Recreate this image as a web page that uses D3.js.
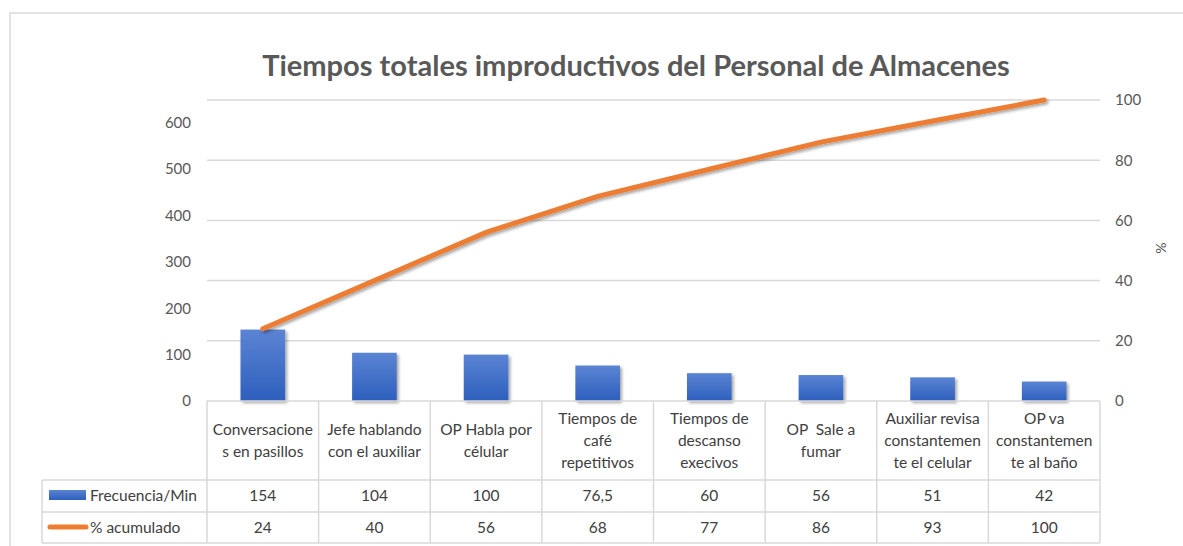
<!DOCTYPE html>
<html>
<head>
<meta charset="utf-8">
<script src="https://cdn.jsdelivr.net/npm/d3@7"></script>
<style>
  body { margin: 0; background: #fff; }
  text { font-family: Lato, "Open Sans", sans-serif; white-space: pre; }
</style>
</head>
<body>
<div id="chart"></div>
<script>
// categories (line breaks as in the table cells)
const categories = [
    "Conversacione\ns en pasillos",
    "Jefe hablando\ncon el auxiliar",
    "OP Habla por\ncélular",
    "Tiempos de\ncafé\nrepetitivos",
    "Tiempos de\ndescanso\nexecivos",
    "OP  Sale a\nfumar",
    "Auxiliar revisa\nconstantemen\nte el celular",
    "OP va\nconstantemen\nte al baño"
];
const frecuencia = [154, 104, 100, 76.5, 60, 56, 51, 42];
const frecuenciaLabels = ["154", "104", "100", "76,5", "60", "56", "51", "42"];
const acumulado = [24, 40, 56, 68, 77, 86, 93, 100];
const leftTicks = [0, 100, 200, 300, 400, 500, 600];
const rightTicks = [0, 20, 40, 60, 80, 100];

const W = 1183, H = 546;
const margin = { top: 100, right: 83, bottom: 145, left: 207 };
const width = W - margin.left - margin.right,
    height = H - margin.top - margin.bottom;

const svg = d3.select("#chart")
    .append("svg")
    .attr("width", W)
    .attr("height", H);

const defs = svg.append("defs");
const grad = defs.append("linearGradient")
    .attr("id", "barGrad")
    .attr("x1", 0).attr("y1", 0).attr("x2", 0).attr("y2", 1);
grad.append("stop").attr("offset", "0%").attr("stop-color", "#5b84d3");
grad.append("stop").attr("offset", "100%").attr("stop-color", "#2d5fbd");

const shadow = defs.append("filter").attr("id", "shadow")
    .attr("x", "-20%").attr("y", "-20%").attr("width", "140%").attr("height", "140%");
shadow.append("feDropShadow")
    .attr("dx", 2).attr("dy", 2).attr("stdDeviation", 1.5)
    .attr("flood-color", "#000").attr("flood-opacity", 0.35);

// chart frame
svg.append("path")
    .attr("d", `M10,${H} L10,13 L${W},13`)
    .attr("fill", "none")
    .attr("stroke", "#d9d9d9")
    .attr("stroke-width", 1.5);

svg.append("text")
    .attr("id", "title")
    .attr("x", 636)
    .attr("y", 76)
    .attr("text-anchor", "middle")
    .style("font-size", "29px")
    .style("font-weight", "bold")
    .attr("fill", "#595959")
    .text("Tiempos totales improductivos del Personal de Almacenes");

// fit title to the reference width
const t = svg.select("#title");
const tw = t.node().getComputedTextLength();
t.style("font-size", (29 * 748 / tw).toFixed(2) + "px");

const g = svg.append("g")
    .attr("transform", `translate(${margin.left},${margin.top})`);

const xc = d3.scaleBand()
    .domain(d3.range(categories.length))
    .range([0, width]);

const y = d3.scaleLinear()
    .domain([0, 649])
    .range([height, 0]);

const y2 = d3.scaleLinear()
    .domain([0, 100])
    .range([height, 0]);

// gridlines (secondary axis)
g.selectAll(".grid")
    .data(rightTicks.slice(1))
    .join("line")
    .attr("x1", 0).attr("x2", width)
    .attr("y1", d => y2(d)).attr("y2", d => y2(d))
    .attr("stroke", "#d9d9d9")
    .attr("stroke-width", 1.5);

// left axis
g.append("g")
    .call(d3.axisLeft(y).tickValues(leftTicks).tickSize(0).tickPadding(16))
    .call(a => a.select(".domain").remove())
    .selectAll("text")
    .style("font-size", "15px")
    .style("font-family", "Lato, sans-serif")
    .attr("fill", "#595959");

// right axis
g.append("g")
    .attr("transform", `translate(${width},0)`)
    .call(d3.axisRight(y2).tickValues(rightTicks).tickSize(0).tickPadding(15))
    .call(a => a.select(".domain").remove())
    .selectAll("text")
    .style("font-size", "15px")
    .style("font-family", "Lato, sans-serif")
    .attr("fill", "#595959");

svg.append("text")
    .attr("transform", `translate(1156,248) rotate(90)`)
    .attr("text-anchor", "middle")
    .style("font-size", "14px")
    .attr("fill", "#595959")
    .text("%");

// bars
g.selectAll(".bar")
    .data(frecuencia)
    .join("rect")
    .attr("class", "bar")
    .attr("x", (d, i) => xc(i) + xc.bandwidth() * 0.3)
    .attr("width", xc.bandwidth() * 0.4)
    .attr("y", d => y(d))
    .attr("height", d => height - y(d))
    .attr("fill", "url(#barGrad)")
    .attr("filter", "url(#shadow)");

// cumulative line
g.append("path")
    .datum(acumulado)
    .attr("fill", "none")
    .attr("stroke", "#ed7d31")
    .attr("stroke-width", 5)
    .attr("stroke-linecap", "round")
    .attr("filter", "url(#shadow)")
    .attr("d", d3.line()
        .x((d, i) => xc(i) + xc.bandwidth() / 2)
        .y(d => y2(d)));

// data table
const tbl = g.append("g").attr("transform", `translate(0,${height})`);
const rowH = [79, 32, 31];
const legendX = 42 - margin.left;
const gridColor = "#d9d9d9";

// horizontal table lines
tbl.append("line").attr("x1", 0).attr("x2", width).attr("y1", 0).attr("y2", 0)
    .attr("stroke", gridColor).attr("stroke-width", 1.5);
[rowH[0], rowH[0] + rowH[1], rowH[0] + rowH[1] + rowH[2]].forEach(yy => {
    tbl.append("line").attr("x1", legendX).attr("x2", width).attr("y1", yy).attr("y2", yy)
        .attr("stroke", gridColor).attr("stroke-width", 1.5);
});
// vertical lines
const totalH = rowH[0] + rowH[1] + rowH[2];
d3.range(categories.length + 1).forEach(i => {
    const xx = i < categories.length ? xc(i) : width;
    tbl.append("line").attr("x1", xx).attr("x2", xx).attr("y1", 0).attr("y2", totalH)
        .attr("stroke", gridColor).attr("stroke-width", 1.5);
});
tbl.append("line").attr("x1", legendX).attr("x2", legendX).attr("y1", rowH[0]).attr("y2", totalH)
    .attr("stroke", gridColor).attr("stroke-width", 1.5);

// category labels
categories.forEach((c, i) => {
    const lines = c.split("\n");
    const cx = xc(i) + xc.bandwidth() / 2;
    const lh = 22;
    const y0 = rowH[0] / 2 - (lines.length - 1) * lh / 2 + 5;
    const txt = tbl.append("text")
        .attr("text-anchor", "middle")
        .style("font-size", "15.5px")
        .attr("fill", "#404040");
    lines.forEach((l, j) => {
        txt.append("tspan").attr("x", cx).attr("y", y0 + j * lh).text(l);
    });
});

// value rows
tbl.selectAll(".freq")
    .data(frecuenciaLabels)
    .join("text")
    .attr("x", (d, i) => xc(i) + xc.bandwidth() / 2)
    .attr("y", rowH[0] + 21)
    .attr("text-anchor", "middle")
    .style("font-size", "15.5px")
    .attr("fill", "#404040")
    .text(d => d);

tbl.selectAll(".acum")
    .data(acumulado)
    .join("text")
    .attr("x", (d, i) => xc(i) + xc.bandwidth() / 2)
    .attr("y", rowH[0] + rowH[1] + 21)
    .attr("text-anchor", "middle")
    .style("font-size", "15.5px")
    .attr("fill", "#404040")
    .text(d => d);

// legend keys in the table
tbl.append("rect")
    .attr("x", 49 - margin.left).attr("y", rowH[0] + 10)
    .attr("width", 37).attr("height", 10)
    .attr("fill", "url(#barGrad)");
tbl.append("text")
    .attr("x", 90 - margin.left).attr("y", rowH[0] + 21)
    .style("font-size", "15.5px")
    .attr("fill", "#404040")
    .text("Frecuencia/Min");

tbl.append("line")
    .attr("x1", 50 - margin.left).attr("x2", 86 - margin.left)
    .attr("y1", rowH[0] + rowH[1] + 15).attr("y2", rowH[0] + rowH[1] + 15)
    .attr("stroke", "#ed7d31").attr("stroke-width", 5)
    .attr("stroke-linecap", "round");
tbl.append("text")
    .attr("x", 90 - margin.left).attr("y", rowH[0] + rowH[1] + 21)
    .style("font-size", "15.5px")
    .attr("fill", "#404040")
    .text("% acumulado");
</script>
</body>
</html>
